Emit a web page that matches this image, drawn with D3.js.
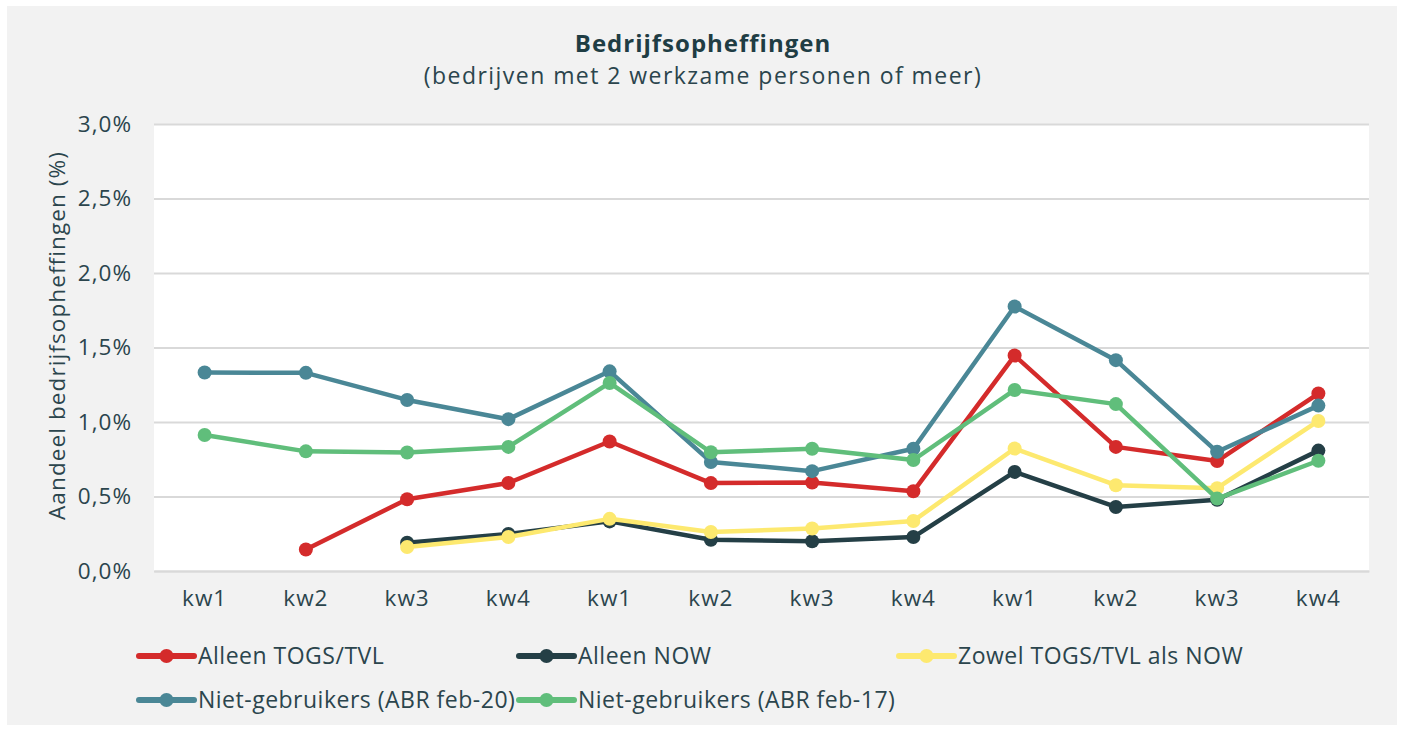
<!DOCTYPE html>
<html>
<head>
<meta charset="utf-8">
<script src="https://cdn.jsdelivr.net/npm/d3@7/dist/d3.min.js"></script>
<style>
  html, body { margin: 0; padding: 0; background: #ffffff; }
  svg { display: block; font-family: "Open Sans", "Noto Sans", sans-serif; }
</style>
</head>
<body>
<svg id="chart" width="1403" height="731"></svg>
<script>
// Quarter labels along the x axis (three consecutive years)
const quarters = ["kw1", "kw2", "kw3", "kw4", "kw1", "kw2", "kw3", "kw4", "kw1", "kw2", "kw3", "kw4"];

// Share of business closures per group, in percent (null = no value)
const alleenTogs   = [null, 0.144, 0.482, 0.591, 0.869, 0.590, 0.594, 0.535, 1.446, 0.833, 0.738, 1.191];
const alleenNow    = [null, null, 0.190, 0.248, 0.333, 0.210, 0.200, 0.228, 0.665, 0.430, 0.478, 0.808];
const zowelBeide   = [null, null, 0.161, 0.228, 0.350, 0.262, 0.285, 0.336, 0.822, 0.576, 0.556, 1.007];
const nietGebr20   = [1.332, 1.330, 1.148, 1.019, 1.340, 0.732, 0.670, 0.820, 1.775, 1.415, 0.800, 1.110];
const nietGebr17   = [0.913, 0.803, 0.795, 0.833, 1.262, 0.797, 0.820, 0.745, 1.215, 1.120, 0.486, 0.740];

const yTicks = [0, 0.5, 1.0, 1.5, 2.0, 2.5, 3.0];

const series = [
  { name: "Alleen TOGS/TVL",              values: alleenTogs, color: "#d42b2b" },
  { name: "Alleen NOW",                   values: alleenNow,  color: "#243f46" },
  { name: "Zowel TOGS/TVL als NOW",       values: zowelBeide, color: "#fde96f" },
  { name: "Niet-gebruikers (ABR feb-20)", values: nietGebr20, color: "#4a8796" },
  { name: "Niet-gebruikers (ABR feb-17)", values: nietGebr17, color: "#60be7b" }
];

const svg = d3.select("#chart");
const textColor = "#2b454d";
const font = "'Open Sans', 'Noto Sans', sans-serif";

// Light panel behind everything
svg.append("rect").attr("x", 7).attr("y", 6).attr("width", 1390).attr("height", 719).attr("fill", "#f2f2f2");

const plot = { left: 154, right: 1369, top: 124, bottom: 571 };

const x = d3.scaleBand().domain(d3.range(quarters.length)).range([plot.left, plot.right]);
const y = d3.scaleLinear().domain([0, 3.0]).range([plot.bottom, plot.top]);

// Plot background
svg.append("rect")
  .attr("x", plot.left).attr("y", plot.top)
  .attr("width", plot.right - plot.left).attr("height", plot.bottom - plot.top)
  .attr("fill", "#ffffff");

// Titles
svg.append("text").attr("x", 703).attr("y", 52).attr("text-anchor", "middle")
  .attr("font-size", 24).attr("font-weight", 700).attr("letter-spacing", 1)
  .attr("fill", "#1f3d44")
  .text("Bedrijfsopheffingen");
svg.append("text").attr("x", 703).attr("y", 84).attr("text-anchor", "middle")
  .attr("font-size", 23).attr("font-weight", 400).attr("letter-spacing", 1.45)
  .attr("fill", textColor)
  .text("(bedrijven met 2 werkzame personen of meer)");

// Y axis with gridlines
const fmt = v => v.toFixed(1).replace(".", ",") + "%";
const yAxis = svg.append("g").attr("transform", `translate(${plot.left},0)`)
  .call(d3.axisLeft(y).tickValues(yTicks).tickFormat(fmt)
        .tickSize(-(plot.right - plot.left)).tickPadding(22));
yAxis.select(".domain").remove();
yAxis.selectAll(".tick line").attr("stroke", "#d9d9d9").attr("stroke-width", 2);
yAxis.selectAll(".tick text").attr("font-size", 22.5).attr("fill", textColor)
  .attr("font-family", font).attr("font-weight", 400).attr("letter-spacing", 1);

// X axis labels
const xAxis = svg.append("g").attr("transform", `translate(0,${plot.bottom})`)
  .call(d3.axisBottom(x).tickFormat(i => quarters[i]).tickSize(0).tickPadding(19));
xAxis.select(".domain").attr("stroke", "#d9d9d9").attr("stroke-width", 2);
xAxis.selectAll(".tick text").attr("font-size", 22.5).attr("fill", textColor)
  .attr("font-family", font).attr("font-weight", 400).attr("letter-spacing", 1);

// Y axis title
svg.append("text")
  .attr("transform", `translate(65,${(plot.top + plot.bottom) / 2 - 12}) rotate(-90)`)
  .attr("text-anchor", "middle").attr("font-size", 22.5).attr("font-weight", 400)
  .attr("letter-spacing", 1.1).attr("fill", textColor)
  .text("Aandeel bedrijfsopheffingen (%)");

// Lines and markers
const cx = i => x(i) + x.bandwidth() / 2;
const line = d3.line()
  .defined(d => d != null)
  .x((d, i) => cx(i))
  .y(d => y(d));

series.forEach(s => {
  const g = svg.append("g");
  g.append("path").datum(s.values)
    .attr("fill", "none").attr("stroke", s.color).attr("stroke-width", 4.5)
    .attr("stroke-linejoin", "round").attr("d", line);
  g.selectAll("circle")
    .data(s.values.map((v, i) => ({ v, i })).filter(d => d.v != null))
    .join("circle")
    .attr("cx", d => cx(d.i)).attr("cy", d => y(d.v)).attr("r", 7)
    .attr("fill", s.color);
});

// Legend
const legendPos = [
  { x: 139, y: 656 }, { x: 519, y: 656 }, { x: 899, y: 656 },
  { x: 139, y: 700 }, { x: 519, y: 700 }
];
series.forEach((s, k) => {
  const p = legendPos[k];
  const g = svg.append("g").attr("transform", `translate(${p.x},${p.y})`);
  g.append("line").attr("x1", 0).attr("x2", 55).attr("y1", 0).attr("y2", 0)
    .attr("stroke", s.color).attr("stroke-width", 6).attr("stroke-linecap", "round");
  g.append("circle").attr("cx", 27.5).attr("cy", 0).attr("r", 7).attr("fill", s.color);
  g.append("text").attr("x", 59).attr("y", 8).attr("font-size", 23).attr("font-weight", 400)
    .attr("letter-spacing", 0.5).attr("fill", textColor).text(s.name);
});
</script>
</body>
</html>
